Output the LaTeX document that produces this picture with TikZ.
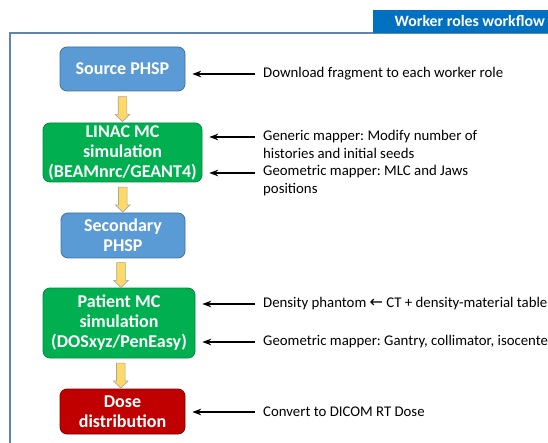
\documentclass[tikz,border=0pt]{standalone}
\usepackage{fontspec}
\setmainfont{Carlito}
\newfontfamily\arrowfont{DejaVu Sans}
\usepackage{xcolor}
\usetikzlibrary{arrows.meta,positioning,shapes.arrows}
\frenchspacing

\definecolor{phspblue}{HTML}{5B9BD5}
\definecolor{phspedge}{HTML}{41719C}
\definecolor{mcgreen}{HTML}{00B050}
\definecolor{mcedge}{HTML}{00873D}
\definecolor{dosered}{HTML}{C00000}
\definecolor{doseedge}{HTML}{8A0000}
\definecolor{titleblue}{HTML}{0070C0}
\definecolor{framegray}{HTML}{6285AC}
\definecolor{flowyellow}{HTML}{FFD966}

\begin{document}
\begin{tikzpicture}[>=Stealth, x=1pt, y=-1pt,
  box/.style={rounded corners=7pt, line width=0.8pt, text=white, align=center,
    inner sep=0pt, font=\bfseries\fontsize{18}{20}\selectfont},
  phsp/.style={box, fill=phspblue, draw=phspedge},
  mc/.style={box, fill=mcgreen, draw=mcedge},
  dose/.style={box, fill=dosered, draw=doseedge},
  note/.style={anchor=west, align=left, inner sep=0pt, font=\fontsize{14.8}{18}\selectfont},
  role/.style={->, line width=1.3pt, shorten >=7pt},
  flow/.style={single arrow, draw=gray!70, fill=flowyellow, line width=0.6pt,
    rotate=-90, minimum height=25pt, minimum width=14pt, inner xsep=0pt,
    inner ysep=4pt, single arrow head extend=3pt}]
\useasboundingbox (0,0) rectangle (548,443);
\clip (0,0) rectangle (548,443);

% frame and title tab
\draw[framegray, line width=1.5pt] (10,470) -- (10,33) -- (600,33);
\fill[titleblue] (373,10) rectangle (560,33);
\node[anchor=east, text=white, inner sep=0pt, font=\bfseries\fontsize{15.8}{17}\selectfont]
  (title) at (545,21.5) {Worker roles workflow};

% workflow
\node[phsp, minimum width=125pt, minimum height=44pt] (src) at (122.5,69) {Source PHSP};
\node[mc, minimum width=159pt, minimum height=59pt] (linac) at (122.5,152.5)
  {LINAC MC\\simulation\\(BEAMnrc/GEANT4)};
\node[phsp, minimum width=124pt, minimum height=45pt] (sec) at (123,235.5) {Secondary\\PHSP};
\node[mc, minimum width=152pt, minimum height=70pt] (pat) at (119,323)
  {Patient MC\\simulation\\(DOSxyz/PenEasy)};
\node[dose, minimum width=125pt, minimum height=45pt] (dist) at (122.5,411.5) {Dose\\distribution};

\foreach \a/\b in {src/linac, linac/sec, sec/pat, pat/dist}
  \path (\a.south) -- (\b.north) node[midway, flow] {};

% worker role inputs
\node[note] (dl) at (263,74) {Download fragment to each worker role};
\node[note] (gen) at (263,144) {Generic mapper: Modify number of\\histories and initial seeds};
\node[note] (geo) at (263,180.5) {Geometric mapper: MLC and Jaws\\positions};
\node[note] (dens) at (263,304) {Density phantom {\arrowfont\fontsize{16}{16}\selectfont ←} CT + density-material table};
\node[note] (gant) at (263,342) {Geometric mapper: Gantry, collimator, isocenter};
\node[note] (dcm) at (263,412) {Convert to DICOM RT Dose};

\coordinate (genTail) at (255,137);
\coordinate (geoTail) at (255,173);
\draw[role] ([xshift=-8pt]dl.west) -- (dl.west -| src.east);
\draw[role] (genTail) -- (genTail -| linac.east);
\draw[role] (geoTail) -- (geoTail -| linac.east);
\draw[role] ([xshift=-8pt]dens.west) -- (dens.west -| pat.east);
\draw[role] ([xshift=-8pt]gant.west) -- (gant.west -| pat.east);
\draw[role] ([xshift=-8pt]dcm.west) -- (dcm.west -| dist.east);
\end{tikzpicture}
\end{document}
